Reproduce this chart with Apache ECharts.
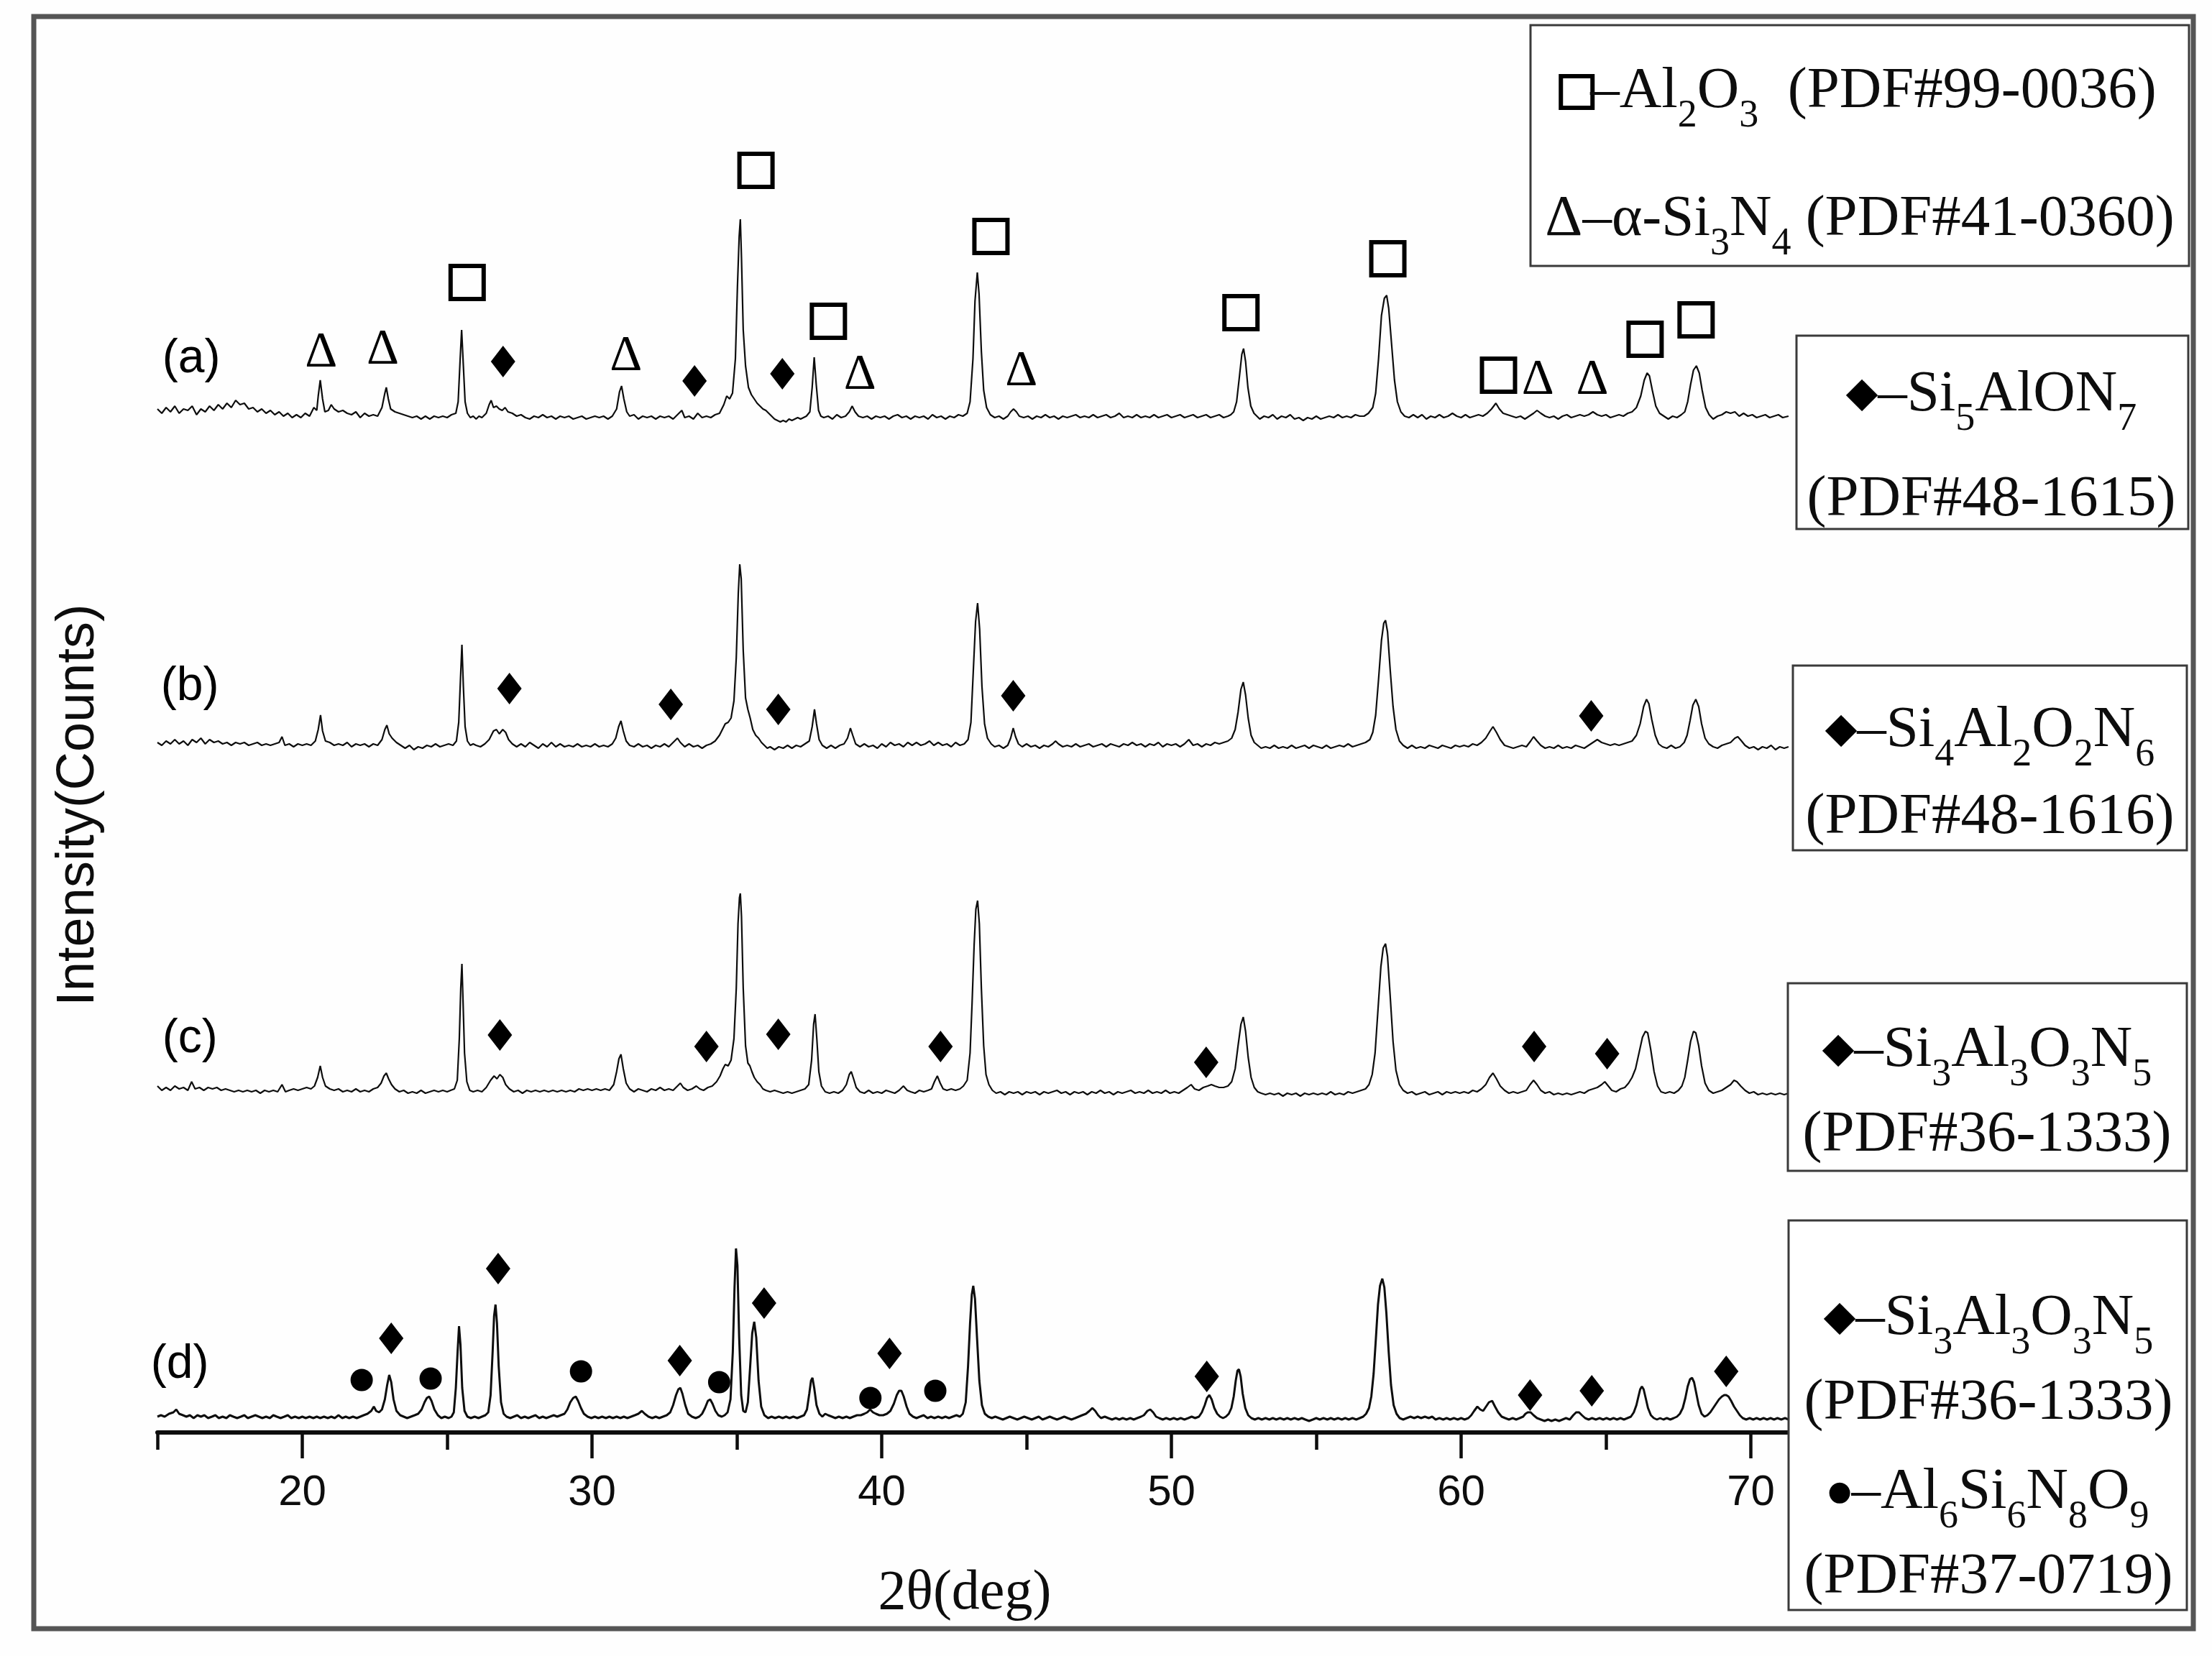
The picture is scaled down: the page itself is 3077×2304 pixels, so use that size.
<!DOCTYPE html>
<html>
<head>
<meta charset="utf-8">
<script src="https://cdn.jsdelivr.net/npm/echarts@6/dist/echarts.min.js"></script>
<style>html,body{margin:0;padding:0;background:#fefefe;}#chart{width:3077px;height:2304px;}</style>
</head>
<body>
<div id="chart"></div>
<script>
// ---------- DATA (2θ in degrees, intensity in arbitrary counts above each pattern's baseline) ----------
const patternNames = ['(a)', '(b)', '(c)', '(d)'];
const patternOffsets = [707, 479, 239, 11];
const patternLabelPos = [[16.17, 746.5], [16.12, 518.5], [16.12, 273.5], [15.77, 47]];

const traceA = [[15.0,5],[15.15,2],[15.3,6],[15.45,3],[15.6,7],[15.75,2],[15.9,5],[16.05,4],[16.2,7],[16.35,1],[16.5,5],[16.65,3],[16.8,7],[16.95,4],[17.1,8],[17.25,5],[17.4,9],[17.55,6],[17.7,11],[17.85,8],[18.0,9],[18.15,5],[18.3,6],[18.45,3],[18.6,5],[18.75,2],[18.9,4],[19.05,1],[19.2,3],[19.35,0],[19.5,2],[19.65,-1],[19.8,1],[19.95,-1],[20.1,2],[20.25,0],[20.4,6],[20.5,4],[20.55,14],[20.62,25],[20.7,12],[20.78,3],[20.9,4],[21.0,8],[21.1,5],[21.25,3],[21.4,4],[21.55,2],[21.7,1],[21.85,3],[22.0,-1],[22.15,2],[22.3,0],[22.45,1],[22.6,0],[22.75,6],[22.85,16],[22.9,20],[22.97,12],[23.05,5],[23.2,3],[23.35,2],[23.5,1],[23.65,0],[23.8,-1],[23.95,0],[24.1,-2],[24.25,0],[24.4,-2],[24.55,0],[24.7,-1],[24.85,0],[25.0,-1],[25.15,1],[25.3,2],[25.38,10],[25.45,40],[25.5,60],[25.56,35],[25.62,10],[25.7,2],[25.8,-1],[25.9,0],[26.0,-2],[26.1,0],[26.2,-1],[26.35,2],[26.45,8],[26.52,11],[26.6,6],[26.7,7],[26.8,5],[26.9,4],[27.0,6],[27.1,3],[27.25,2],[27.4,0],[27.55,1],[27.7,-1],[27.85,-2],[28.0,0],[28.15,-1],[28.3,1],[28.45,-1],[28.6,0],[28.75,-2],[28.9,0],[29.05,-1],[29.2,0],[29.35,-2],[29.5,-1],[29.65,0],[29.8,-2],[29.95,-1],[30.1,0],[30.25,-1],[30.4,0],[30.55,-2],[30.7,0],[30.85,5],[30.95,17],[31.02,21],[31.1,12],[31.2,3],[31.3,0],[31.45,1],[31.6,-2],[31.75,0],[31.9,-1],[32.05,0],[32.2,-2],[32.35,0],[32.5,-1],[32.65,0],[32.8,-2],[32.95,1],[33.1,4],[33.2,-1],[33.35,0],[33.5,-2],[33.65,2],[33.8,-1],[33.95,0],[34.1,-1],[34.25,1],[34.4,2],[34.55,8],[34.65,14],[34.75,12],[34.85,16],[34.95,40],[35.02,90],[35.08,125],[35.12,137],[35.16,110],[35.22,60],[35.3,35],[35.4,20],[35.5,15],[35.6,12],[35.7,9],[35.8,7],[35.9,5],[36.0,4],[36.1,2],[36.2,0],[36.3,-2],[36.4,-3],[36.5,-4],[36.6,-3],[36.7,-4],[36.8,-2],[36.9,-3],[37.0,-2],[37.1,-1],[37.2,-2],[37.3,-1],[37.4,0],[37.52,3],[37.6,20],[37.67,41],[37.74,22],[37.82,4],[37.9,0],[38.0,-1],[38.15,0],[38.3,-2],[38.45,1],[38.6,-1],[38.75,0],[38.88,3],[38.98,7],[39.08,3],[39.2,0],[39.35,-1],[39.5,0],[39.65,-2],[39.8,0],[39.95,-1],[40.1,0],[40.25,-2],[40.4,0],[40.55,1],[40.7,-1],[40.85,0],[41.0,-2],[41.15,0],[41.3,-1],[41.45,0],[41.6,-2],[41.75,1],[41.9,-1],[42.05,0],[42.2,-2],[42.35,0],[42.5,-1],[42.65,1],[42.8,0],[42.95,2],[43.05,10],[43.15,40],[43.22,80],[43.3,100],[43.36,85],[43.44,45],[43.52,18],[43.62,6],[43.75,1],[43.9,-1],[44.05,0],[44.2,-2],[44.35,0],[44.45,3],[44.55,5],[44.65,3],[44.75,0],[44.9,-1],[45.05,0],[45.2,-2],[45.35,0],[45.5,-1],[45.65,1],[45.8,-1],[45.95,0],[46.1,-2],[46.25,0],[46.4,-1],[46.55,0],[46.7,1],[46.85,-1],[47.0,0],[47.15,-1],[47.3,1],[47.45,-1],[47.6,0],[47.75,1],[47.9,-1],[48.05,0],[48.2,2],[48.35,-1],[48.5,0],[48.65,-1],[48.8,1],[48.95,-1],[49.1,0],[49.25,-1],[49.4,1],[49.55,-1],[49.7,0],[49.85,1],[50.0,-1],[50.15,0],[50.3,1],[50.45,-1],[50.6,0],[50.75,1],[50.9,-1],[51.05,0],[51.2,1],[51.35,-1],[51.5,0],[51.65,1],[51.8,-1],[51.95,0],[52.05,1],[52.15,3],[52.25,10],[52.35,28],[52.43,43],[52.49,47],[52.56,38],[52.64,20],[52.74,7],[52.85,2],[52.95,0],[53.05,-2],[53.2,0],[53.35,-1],[53.5,1],[53.65,-2],[53.8,0],[53.95,-1],[54.1,1],[54.25,-2],[54.4,-1],[54.55,-3],[54.7,-1],[54.85,-2],[55.0,0],[55.15,-2],[55.3,-1],[55.45,0],[55.6,-1],[55.75,1],[55.9,-1],[56.05,0],[56.2,-1],[56.35,1],[56.5,0],[56.65,0],[56.8,2],[56.95,6],[57.05,16],[57.15,40],[57.25,70],[57.35,82],[57.43,84],[57.5,75],[57.6,50],[57.7,25],[57.8,10],[57.92,3],[58.05,0],[58.2,-1],[58.35,1],[58.5,-1],[58.65,1],[58.8,-2],[58.95,0],[59.1,-1],[59.25,1],[59.4,-1],[59.55,0],[59.7,2],[59.85,0],[60.0,-1],[60.15,1],[60.3,-1],[60.45,0],[60.6,1],[60.75,0],[60.9,2],[61.05,5],[61.2,9],[61.32,5],[61.45,2],[61.6,1],[61.75,0],[61.9,-1],[62.05,0],[62.2,-2],[62.35,0],[62.5,2],[62.62,4],[62.75,2],[62.9,0],[63.05,-1],[63.2,0],[63.35,-2],[63.5,0],[63.65,1],[63.8,-1],[63.95,0],[64.1,1],[64.25,0],[64.4,1],[64.55,3],[64.7,1],[64.85,0],[65.0,1],[65.15,-1],[65.3,0],[65.45,1],[65.6,0],[65.75,2],[65.9,3],[66.05,6],[66.2,14],[66.32,25],[66.42,30],[66.5,28],[66.6,18],[66.72,7],[66.85,2],[67.0,0],[67.15,-2],[67.3,0],[67.45,-1],[67.6,1],[67.72,3],[67.82,10],[67.92,22],[68.02,32],[68.12,35],[68.22,30],[68.32,18],[68.44,6],[68.56,1],[68.7,-2],[68.85,0],[69.0,1],[69.15,3],[69.3,2],[69.45,3],[69.6,0],[69.75,2],[69.9,0],[70.05,1],[70.2,-1],[70.35,0],[70.5,1],[70.65,-1],[70.8,0],[70.95,1],[71.1,-1],[71.3,0]];

const traceB = [[15.0,1],[15.15,-1],[15.3,2],[15.45,0],[15.6,3],[15.75,0],[15.9,2],[16.05,-1],[16.2,3],[16.35,1],[16.5,4],[16.65,0],[16.8,3],[16.95,1],[17.1,2],[17.25,0],[17.4,1],[17.55,-1],[17.7,1],[17.85,0],[18.0,1],[18.15,-1],[18.3,0],[18.45,1],[18.6,-1],[18.75,0],[18.9,-1],[19.05,0],[19.2,1],[19.3,5],[19.4,-1],[19.55,0],[19.7,-2],[19.85,0],[20.0,-1],[20.15,0],[20.3,-1],[20.45,2],[20.55,10],[20.63,20],[20.7,9],[20.8,2],[20.95,1],[21.1,-1],[21.25,0],[21.4,-1],[21.55,1],[21.7,-2],[21.85,0],[22.0,-1],[22.15,0],[22.3,-2],[22.45,0],[22.6,-1],[22.75,3],[22.85,10],[22.92,13],[23.0,7],[23.1,4],[23.25,1],[23.4,-1],[23.55,-3],[23.7,-1],[23.85,-4],[24.0,-2],[24.15,-3],[24.3,-1],[24.45,-2],[24.6,0],[24.75,-2],[24.9,-1],[25.05,0],[25.2,-1],[25.32,2],[25.4,15],[25.46,45],[25.51,69],[25.56,40],[25.62,12],[25.7,2],[25.8,-1],[25.9,0],[26.0,-1],[26.15,-2],[26.3,0],[26.45,3],[26.6,9],[26.7,10],[26.8,7],[26.92,10],[27.02,8],[27.12,3],[27.25,0],[27.4,-2],[27.55,0],[27.7,-2],[27.85,1],[28.0,-1],[28.15,-3],[28.3,0],[28.45,-2],[28.6,1],[28.75,-2],[28.9,0],[29.05,-2],[29.2,-1],[29.35,-2],[29.5,0],[29.65,-2],[29.8,-1],[29.95,-2],[30.1,0],[30.25,-2],[30.4,-1],[30.55,-2],[30.7,0],[30.82,4],[30.92,12],[31.0,16],[31.08,9],[31.18,2],[31.3,-1],[31.45,-2],[31.6,0],[31.75,-2],[31.9,-1],[32.05,-3],[32.2,-1],[32.35,-2],[32.5,0],[32.65,-2],[32.8,1],[32.95,4],[33.05,1],[33.2,-2],[33.35,0],[33.5,-2],[33.65,-1],[33.8,-3],[33.95,-1],[34.1,0],[34.25,2],[34.4,6],[34.5,10],[34.6,14],[34.7,15],[34.8,18],[34.9,30],[34.98,60],[35.05,105],[35.1,125],[35.15,115],[35.22,65],[35.3,32],[35.38,24],[35.46,18],[35.55,10],[35.65,6],[35.75,4],[35.85,1],[35.95,-1],[36.05,-3],[36.15,-2],[36.3,-4],[36.45,-2],[36.6,-3],[36.75,-1],[36.9,-3],[37.05,-1],[37.2,-2],[37.35,0],[37.5,2],[37.6,12],[37.68,24],[37.75,14],[37.84,3],[37.95,-1],[38.1,-3],[38.25,-1],[38.4,-3],[38.55,-1],[38.7,0],[38.82,4],[38.92,11],[39.0,6],[39.1,0],[39.25,-2],[39.4,0],[39.55,-2],[39.7,-1],[39.85,-3],[40.0,0],[40.15,-2],[40.3,1],[40.45,-1],[40.6,0],[40.75,-2],[40.9,1],[41.05,-1],[41.2,1],[41.35,-1],[41.5,0],[41.65,2],[41.8,-1],[41.95,1],[42.1,-1],[42.25,0],[42.4,-2],[42.55,1],[42.7,-1],[42.85,0],[42.98,3],[43.08,15],[43.16,50],[43.24,85],[43.31,98],[43.38,80],[43.46,40],[43.55,14],[43.65,4],[43.78,0],[43.9,-2],[44.05,-1],[44.2,-3],[44.35,-1],[44.45,4],[44.54,11],[44.62,5],[44.72,0],[44.85,-2],[45.0,0],[45.15,-2],[45.3,-1],[45.45,-3],[45.6,-1],[45.75,-2],[45.9,0],[46.0,2],[46.1,0],[46.25,-2],[46.4,-1],[46.55,-2],[46.7,0],[46.85,-2],[47.0,-1],[47.15,0],[47.3,-2],[47.45,-1],[47.6,0],[47.75,-2],[47.9,0],[48.05,-1],[48.2,-2],[48.35,0],[48.5,-1],[48.65,1],[48.8,-1],[48.95,0],[49.1,-2],[49.25,0],[49.4,-1],[49.55,1],[49.7,-2],[49.85,0],[50.0,-1],[50.15,0],[50.3,-2],[50.45,0],[50.6,3],[50.75,-1],[50.9,0],[51.05,-2],[51.2,0],[51.35,-1],[51.5,1],[51.65,0],[51.8,1],[51.95,2],[52.08,4],[52.2,10],[52.3,22],[52.4,38],[52.48,43],[52.56,34],[52.65,18],[52.75,6],[52.86,1],[52.98,-1],[53.1,-3],[53.25,-2],[53.4,-3],[53.55,-1],[53.7,-3],[53.85,-2],[54.0,-3],[54.15,-1],[54.3,-3],[54.45,-2],[54.6,-1],[54.75,-3],[54.9,-1],[55.05,-2],[55.2,-3],[55.35,-1],[55.5,-3],[55.65,-2],[55.8,-1],[55.95,-2],[56.1,0],[56.25,-2],[56.4,-1],[56.55,0],[56.7,1],[56.85,3],[56.95,8],[57.05,20],[57.15,45],[57.25,72],[57.33,84],[57.39,86],[57.46,78],[57.55,52],[57.65,26],[57.75,10],[57.87,2],[58.0,-1],[58.15,-3],[58.3,-1],[58.45,-3],[58.6,-2],[58.75,-3],[58.9,-1],[59.05,-2],[59.2,-3],[59.35,-1],[59.5,-2],[59.65,-3],[59.8,-1],[59.95,-2],[60.1,-1],[60.25,-2],[60.4,0],[60.55,-1],[60.7,1],[60.85,4],[61.0,9],[61.1,12],[61.22,8],[61.35,3],[61.5,-1],[61.65,-2],[61.8,-3],[61.95,-2],[62.1,-1],[62.25,-2],[62.4,2],[62.5,5],[62.62,2],[62.75,-1],[62.9,-3],[63.05,-2],[63.2,-3],[63.35,-1],[63.5,-3],[63.65,-2],[63.8,-3],[63.95,-1],[64.1,-2],[64.25,-3],[64.4,-1],[64.55,1],[64.7,3],[64.85,1],[65.0,0],[65.15,-1],[65.3,0],[65.45,-1],[65.6,0],[65.75,1],[65.9,2],[66.05,6],[66.18,14],[66.3,26],[66.4,31],[66.48,28],[66.58,17],[66.7,6],[66.82,0],[66.95,-2],[67.1,-3],[67.25,-1],[67.4,-3],[67.55,-2],[67.7,1],[67.8,6],[67.9,16],[68.0,27],[68.1,31],[68.2,26],[68.3,14],[68.42,4],[68.55,0],[68.7,-2],[68.85,-3],[69.0,-1],[69.15,0],[69.3,1],[69.45,4],[69.55,5],[69.68,2],[69.8,-1],[69.95,-3],[70.1,-2],[70.25,-4],[70.4,-2],[70.55,-3],[70.7,-1],[70.85,-4],[71.0,-2],[71.15,-3],[71.3,-2]];

const traceC = [[15.0,2],[15.15,-1],[15.3,1],[15.45,-1],[15.6,2],[15.75,0],[15.9,1],[16.05,-1],[16.18,5],[16.3,0],[16.45,1],[16.6,-1],[16.75,1],[16.9,0],[17.05,1],[17.2,-1],[17.35,0],[17.5,-1],[17.65,-2],[17.8,-1],[17.95,-2],[18.1,-1],[18.25,-2],[18.4,-1],[18.55,-3],[18.7,-1],[18.85,-2],[19.0,-1],[19.15,-2],[19.3,3],[19.42,-2],[19.55,-1],[19.7,0],[19.85,-1],[20.0,0],[20.15,1],[20.3,0],[20.42,2],[20.53,8],[20.62,16],[20.7,8],[20.8,2],[20.95,0],[21.1,-1],[21.25,0],[21.4,-2],[21.55,-1],[21.7,-2],[21.85,0],[22.0,-2],[22.15,-1],[22.3,-2],[22.45,0],[22.6,1],[22.72,4],[22.82,9],[22.9,11],[22.98,7],[23.08,3],[23.2,0],[23.35,-2],[23.5,-1],[23.65,-3],[23.8,-2],[23.95,-3],[24.1,-1],[24.25,-3],[24.4,-2],[24.55,-1],[24.7,-2],[24.85,-1],[25.0,-2],[25.12,-1],[25.25,0],[25.35,6],[25.42,35],[25.47,70],[25.51,87],[25.55,60],[25.6,25],[25.68,5],[25.78,-1],[25.9,-2],[26.05,-1],[26.2,-2],[26.35,1],[26.5,6],[26.62,9],[26.72,7],[26.82,10],[26.92,8],[27.02,3],[27.15,0],[27.3,-2],[27.45,-1],[27.6,-3],[27.75,-1],[27.9,-2],[28.05,-1],[28.2,-2],[28.35,-1],[28.5,-2],[28.65,-1],[28.8,-2],[28.95,-1],[29.1,-2],[29.25,-1],[29.4,-2],[29.55,0],[29.7,-1],[29.85,0],[30.0,-1],[30.15,0],[30.3,-1],[30.45,0],[30.6,-1],[30.75,3],[30.85,12],[30.93,21],[31.0,24],[31.08,14],[31.18,4],[31.3,0],[31.45,-2],[31.6,0],[31.75,-1],[31.9,-2],[32.05,0],[32.2,-1],[32.35,1],[32.5,-1],[32.65,0],[32.8,-1],[32.95,2],[33.05,4],[33.15,1],[33.3,-1],[33.45,0],[33.6,2],[33.72,0],[33.85,-1],[34.0,1],[34.15,2],[34.3,5],[34.42,9],[34.52,14],[34.6,17],[34.7,16],[34.8,20],[34.9,35],[34.98,70],[35.04,115],[35.09,133],[35.12,136],[35.16,120],[35.22,70],[35.3,30],[35.38,18],[35.45,16],[35.52,12],[35.6,8],[35.7,5],[35.8,3],[35.9,0],[36.0,-1],[36.15,-2],[36.3,-1],[36.45,-2],[36.6,-3],[36.75,-2],[36.9,-3],[37.05,-2],[37.2,-1],[37.35,0],[37.48,3],[37.58,20],[37.65,45],[37.7,52],[37.76,35],[37.83,12],[37.92,2],[38.05,-2],[38.2,-3],[38.35,-2],[38.5,-3],[38.65,-1],[38.78,3],[38.88,10],[38.95,12],[39.03,7],[39.12,1],[39.25,-2],[39.4,-3],[39.55,-1],[39.7,-3],[39.85,-2],[40.0,-3],[40.15,-1],[40.3,-2],[40.45,-3],[40.6,-1],[40.75,2],[40.88,-1],[41.0,-2],[41.15,-3],[41.3,-1],[41.45,-2],[41.6,-1],[41.72,0],[41.82,5],[41.92,9],[42.02,4],[42.12,0],[42.25,-1],[42.4,0],[42.55,-1],[42.7,0],[42.82,2],[42.95,6],[43.05,25],[43.12,60],[43.19,100],[43.25,125],[43.31,131],[43.37,115],[43.44,70],[43.52,30],[43.6,10],[43.7,3],[43.82,-1],[43.95,-3],[44.1,-2],[44.25,-4],[44.4,-2],[44.55,-3],[44.7,-2],[44.85,-4],[45.0,-2],[45.15,-3],[45.3,-2],[45.45,-4],[45.6,-2],[45.75,-3],[45.9,-2],[46.05,-1],[46.2,-3],[46.35,-2],[46.5,-4],[46.65,-2],[46.8,-3],[46.95,-2],[47.1,-4],[47.25,-2],[47.4,-3],[47.55,-1],[47.7,-3],[47.85,-2],[48.0,-4],[48.15,-2],[48.3,-3],[48.45,-2],[48.6,-1],[48.75,-3],[48.9,-2],[49.05,-3],[49.2,-1],[49.35,-3],[49.5,-2],[49.65,-3],[49.8,-1],[49.95,-3],[50.1,-2],[50.25,-3],[50.4,-1],[50.55,1],[50.68,3],[50.8,0],[50.95,-1],[51.1,1],[51.25,2],[51.38,3],[51.5,2],[51.65,1],[51.8,1],[51.95,2],[52.08,5],[52.2,14],[52.3,30],[52.4,45],[52.48,50],[52.56,40],[52.65,22],[52.75,8],[52.86,1],[52.98,-2],[53.1,-3],[53.25,-4],[53.4,-3],[53.55,-4],[53.7,-3],[53.85,-5],[54.0,-3],[54.15,-4],[54.3,-3],[54.45,-5],[54.6,-3],[54.75,-4],[54.9,-3],[55.05,-4],[55.2,-3],[55.35,-4],[55.5,-2],[55.65,-4],[55.8,-3],[55.95,-4],[56.1,-2],[56.25,-3],[56.4,-2],[56.55,-1],[56.7,0],[56.82,3],[56.93,10],[57.03,25],[57.13,55],[57.23,85],[57.31,98],[57.39,101],[57.46,92],[57.55,65],[57.65,33],[57.75,13],[57.87,3],[58.0,-1],[58.15,-3],[58.3,-2],[58.45,-4],[58.6,-3],[58.75,-2],[58.9,-4],[59.05,-3],[59.2,-2],[59.35,-4],[59.5,-2],[59.65,-3],[59.8,-2],[59.95,-3],[60.1,-2],[60.25,-3],[60.4,-1],[60.55,-2],[60.7,0],[60.85,3],[60.98,8],[61.1,11],[61.22,7],[61.35,2],[61.5,-1],[61.65,-3],[61.8,-2],[61.95,-3],[62.1,-2],[62.25,-1],[62.38,3],[62.5,6],[62.62,3],[62.75,-1],[62.9,-3],[63.05,-2],[63.2,-4],[63.35,-3],[63.5,-4],[63.65,-3],[63.8,-4],[63.95,-3],[64.1,-2],[64.25,-3],[64.4,-1],[64.55,0],[64.7,1],[64.85,3],[64.96,5],[65.08,2],[65.2,-1],[65.35,-2],[65.5,0],[65.65,1],[65.78,4],[65.9,8],[66.02,14],[66.14,25],[66.26,36],[66.36,40],[66.44,39],[66.54,28],[66.66,12],[66.78,2],[66.9,-2],[67.05,-3],[67.2,-2],[67.35,-3],[67.5,-1],[67.62,2],[67.72,8],[67.82,20],[67.92,33],[68.02,40],[68.1,39],[68.2,30],[68.3,16],[68.42,4],[68.55,-1],[68.7,-3],[68.85,-2],[69.0,-1],[69.15,1],[69.3,3],[69.42,6],[69.52,5],[69.65,2],[69.8,-1],[69.95,-3],[70.1,-2],[70.25,-4],[70.4,-3],[70.55,-4],[70.7,-3],[70.85,-4],[71.0,-3],[71.15,-4],[71.3,-3]];

const traceD = [[15.0,0],[15.12,1],[15.25,0],[15.4,2],[15.55,3],[15.65,5],[15.75,2],[15.88,1],[16.0,0],[16.12,1],[16.25,-1],[16.38,1],[16.5,0],[16.62,1],[16.75,-1],[16.88,0],[17.0,1],[17.12,-1],[17.25,0],[17.38,-1],[17.5,1],[17.62,0],[17.75,-1],[17.88,0],[18.0,1],[18.12,-1],[18.25,0],[18.38,1],[18.5,0],[18.62,-1],[18.75,0],[18.88,-1],[19.0,1],[19.12,0],[19.25,-1],[19.38,0],[19.5,1],[19.62,-1],[19.75,0],[19.88,-1],[20.0,0],[20.12,-1],[20.25,0],[20.38,-1],[20.5,0],[20.62,-1],[20.75,0],[20.88,-1],[21.0,0],[21.12,-1],[21.25,1],[21.38,-1],[21.5,0],[21.62,-1],[21.75,0],[21.88,-1],[22.0,0],[22.12,1],[22.25,2],[22.38,4],[22.47,7],[22.55,4],[22.65,3],[22.75,5],[22.85,12],[22.93,22],[23.0,29],[23.07,24],[23.15,12],[23.25,4],[23.38,1],[23.5,0],[23.62,-1],[23.75,0],[23.88,1],[24.0,2],[24.12,5],[24.22,10],[24.3,13],[24.38,14],[24.46,11],[24.56,5],[24.68,1],[24.8,-1],[24.92,0],[25.05,-1],[25.15,0],[25.23,3],[25.3,20],[25.36,45],[25.41,63],[25.46,50],[25.52,20],[25.6,4],[25.7,0],[25.82,-1],[25.95,0],[26.08,-1],[26.2,0],[26.32,1],[26.42,3],[26.5,15],[26.57,45],[26.62,70],[26.67,78],[26.72,65],[26.78,35],[26.86,10],[26.95,2],[27.05,0],[27.18,-1],[27.3,0],[27.42,1],[27.55,-1],[27.68,0],[27.8,-1],[27.92,0],[28.05,1],[28.18,-1],[28.3,0],[28.42,-1],[28.55,0],[28.68,1],[28.8,0],[28.92,1],[29.05,2],[29.15,5],[29.25,10],[29.35,13],[29.44,14],[29.52,11],[29.62,6],[29.72,2],[29.85,0],[29.98,-1],[30.1,0],[30.22,-1],[30.35,0],[30.48,-1],[30.6,0],[30.72,-1],[30.85,0],[30.98,-1],[31.1,0],[31.22,-1],[31.35,0],[31.48,1],[31.6,2],[31.72,4],[31.82,2],[31.95,0],[32.08,-1],[32.2,0],[32.32,-1],[32.45,0],[32.58,1],[32.7,3],[32.8,8],[32.9,15],[32.98,19],[33.05,20],[33.12,16],[33.22,8],[33.32,2],[33.45,0],[33.58,-1],[33.7,0],[33.8,2],[33.9,6],[34.0,11],[34.08,12],[34.16,9],[34.26,4],[34.36,1],[34.48,0],[34.58,1],[34.68,3],[34.78,12],[34.86,45],[34.92,90],[34.97,117],[35.02,105],[35.08,55],[35.15,15],[35.22,4],[35.3,3],[35.38,10],[35.46,35],[35.53,58],[35.6,66],[35.67,55],[35.75,25],[35.84,7],[35.95,1],[36.08,-1],[36.2,0],[36.32,-1],[36.45,0],[36.58,-1],[36.7,0],[36.82,-1],[36.95,0],[37.08,-1],[37.2,0],[37.32,1],[37.42,5],[37.5,16],[37.56,25],[37.61,27],[37.67,20],[37.75,8],[37.85,2],[37.95,0],[38.05,2],[38.15,1],[38.28,0],[38.4,-1],[38.52,0],[38.65,-1],[38.78,0],[38.9,-1],[39.02,0],[39.15,1],[39.28,1],[39.4,2],[39.5,3],[39.6,5],[39.7,3],[39.8,2],[39.92,1],[40.05,1],[40.18,2],[40.3,4],[40.42,9],[40.52,15],[40.6,18],[40.68,18],[40.76,14],[40.86,7],[40.96,2],[41.08,0],[41.2,-1],[41.32,0],[41.45,1],[41.58,-1],[41.7,0],[41.82,-1],[41.95,0],[42.08,-1],[42.2,0],[42.32,-1],[42.45,0],[42.58,1],[42.7,0],[42.8,2],[42.9,10],[42.98,35],[43.05,65],[43.11,85],[43.16,91],[43.22,82],[43.29,55],[43.37,25],[43.46,8],[43.56,2],[43.68,0],[43.8,-1],[43.92,0],[44.05,-1],[44.18,-2],[44.3,-1],[44.42,0],[44.55,-1],[44.68,-2],[44.8,-1],[44.92,0],[45.05,-1],[45.18,-2],[45.3,-1],[45.42,0],[45.55,-2],[45.68,-1],[45.8,0],[45.92,-1],[46.05,-2],[46.18,-1],[46.3,0],[46.42,-1],[46.55,-2],[46.68,-1],[46.8,0],[46.92,1],[47.05,2],[47.17,4],[47.27,6],[47.37,4],[47.47,1],[47.57,-1],[47.7,0],[47.82,-1],[47.95,-2],[48.08,-1],[48.2,-2],[48.32,-1],[48.45,-2],[48.58,-1],[48.7,-2],[48.82,-1],[48.95,0],[49.05,1],[49.17,4],[49.27,5],[49.37,3],[49.47,0],[49.58,-1],[49.7,-2],[49.82,-1],[49.95,-2],[50.08,-1],[50.2,-2],[50.32,-1],[50.45,-2],[50.58,-1],[50.7,0],[50.82,-1],[50.95,0],[51.05,3],[51.15,8],[51.23,13],[51.31,15],[51.39,12],[51.48,6],[51.58,2],[51.68,0],[51.78,-1],[51.88,0],[51.98,2],[52.07,6],[52.15,14],[52.22,25],[52.28,32],[52.33,33],[52.39,28],[52.46,16],[52.55,6],[52.65,1],[52.76,-1],[52.88,-2],[53.0,-1],[53.12,-2],[53.25,-1],[53.38,-2],[53.5,-1],[53.62,-2],[53.75,-1],[53.88,-2],[54.0,-1],[54.12,-2],[54.25,-1],[54.38,-2],[54.5,-1],[54.62,-2],[54.75,-3],[54.88,-2],[55.0,-1],[55.12,-2],[55.25,-1],[55.38,-2],[55.5,-1],[55.62,-2],[55.75,-1],[55.88,-2],[56.0,-1],[56.12,-2],[56.25,-1],[56.38,-2],[56.5,-1],[56.62,0],[56.72,2],[56.82,6],[56.9,14],[56.98,30],[57.06,55],[57.13,78],[57.2,91],[57.28,96],[57.35,90],[57.42,72],[57.5,45],[57.58,22],[57.67,8],[57.77,2],[57.88,-1],[58.0,-2],[58.12,-1],[58.25,0],[58.38,-1],[58.5,0],[58.62,-1],[58.75,0],[58.88,-1],[59.0,0],[59.12,-2],[59.25,-1],[59.38,-2],[59.5,-1],[59.62,-2],[59.75,-1],[59.88,-2],[60.0,-1],[60.12,-2],[60.25,-1],[60.35,1],[60.45,4],[60.56,7],[60.66,5],[60.76,4],[60.86,7],[60.96,10],[61.07,11],[61.17,7],[61.28,3],[61.4,0],[61.52,-1],[61.65,-2],[61.78,-1],[61.9,-2],[62.02,-1],[62.14,0],[62.22,2],[62.3,3],[62.4,3],[62.5,1],[62.62,-1],[62.75,-2],[62.88,-3],[63.0,-2],[63.12,-3],[63.25,-2],[63.38,-3],[63.5,-2],[63.62,-1],[63.75,-2],[63.87,1],[63.97,3],[64.07,3],[64.17,1],[64.28,-1],[64.4,-2],[64.52,-1],[64.65,-2],[64.78,-1],[64.9,-2],[65.02,-1],[65.14,-2],[65.26,-1],[65.38,-2],[65.5,-1],[65.62,-2],[65.74,-1],[65.86,0],[65.96,3],[66.05,8],[66.12,14],[66.18,19],[66.24,21],[66.3,19],[66.37,13],[66.45,6],[66.55,1],[66.65,-1],[66.76,-2],[66.87,-1],[66.98,-2],[67.1,-1],[67.22,-2],[67.34,-1],[67.45,0],[67.55,2],[67.65,6],[67.74,13],[67.82,21],[67.9,26],[67.97,27],[68.04,24],[68.12,16],[68.2,8],[68.3,2],[68.4,0],[68.5,1],[68.6,3],[68.7,6],[68.8,9],[68.9,12],[69.0,14],[69.08,15],[69.15,15],[69.23,14],[69.32,11],[69.42,7],[69.52,4],[69.62,1],[69.72,-1],[69.84,-2],[69.96,-1],[70.08,-2],[70.2,-1],[70.32,-2],[70.44,-1],[70.56,-2],[70.68,-1],[70.8,-2],[70.92,-1],[71.05,-2],[71.18,-1],[71.3,-2]];

// Phase markers: [2θ, plotted intensity]
const squareMarks = [[25.69,800],[35.66,878],[38.16,773],[43.77,832],[52.4,779],[57.47,816.5],[61.29,735.5],[66.35,760.5],[68.11,774]];
const triangleMarks = [[20.65,750.5],[22.78,752.5],[31.17,748],[39.25,735],[44.82,737.5],[62.65,731.5],[64.53,731.5]];
const diamondMarks = [
  [26.93,745],[33.54,731.5],[36.57,736.5],
  [27.15,517.5],[32.72,506.5],[36.43,503],[44.54,512.5],[64.49,498.5],
  [26.82,276.5],[33.95,268.5],[36.43,277],[42.03,268.5],[51.2,257.5],[62.52,268.5],[65.04,263.5],
  [23.07,65.5],[26.76,114],[33.03,50],[35.94,90],[40.27,55],[51.22,39],[62.38,26],[64.51,29],[69.15,42.5]
];
const circleMarks = [[22.05,36.5],[24.43,37.5],[29.62,42.5],[34.39,35],[39.61,24],[41.85,29]];

// Axis values
const xMin = 15, xMax = 75, xMinorStep = 5, xMajorStart = 20, xMajorStep = 10;
const yMin = 0, yMax = 900;

// Legend texts (rich-text markup)
const legendLines = [
  ['{sq| }{t|–Al}{s|2}{t|O}{s|3}{t|  (PDF#99-0036)}', '{t|Δ–α-Si}{s|3}{t|N}{s|4}{t| (PDF#41-0360)}'],
  ['{dm|◆}{t|–Si}{s|5}{t|AlON}{s|7}', '{t|(PDF#48-1615)}'],
  ['{dm|◆}{t|–Si}{s|4}{t|Al}{s|2}{t|O}{s|2}{t|N}{s|6}', '{t|(PDF#48-1616)}'],
  ['{dm|◆}{t|–Si}{s|3}{t|Al}{s|3}{t|O}{s|3}{t|N}{s|5}', '{t|(PDF#36-1333)}'],
  ['{dm|◆}{t|–Si}{s|3}{t|Al}{s|3}{t|O}{s|3}{t|N}{s|5}', '{t|(PDF#36-1333)}', '{dt|●}{t|–Al}{s|6}{t|Si}{s|6}{t|N}{s|8}{t|O}{s|9}', '{t|(PDF#37-0719)}']
];

// ---------- LAYOUT ----------
const W = 3077, H = 2304;
const gridLeft = 219, axisY = 1993, pxPerDeg = 40.3, pxPerUnit = 2;
const gridRight = W - (gridLeft + (xMax - xMin) * pxPerDeg);
const gridTop = axisY - (yMax - yMin) * pxPerUnit;
const gridBottom = H - axisY;
const grid2Left = gridLeft + (xMajorStart - xMin) * pxPerDeg;

const legendBoxes = [
  {x: 2129, y: 35, w: 916, h: 335, lines: [128, 306], cx: 2587},
  {x: 2499, y: 467, w: 545, h: 269, lines: [550, 696], cx: 2770},
  {x: 2494, y: 926, w: 548, h: 257, lines: [1017, 1138], cx: 2768},
  {x: 2487, y: 1368, w: 555, h: 261, lines: [1462, 1580], cx: 2764},
  {x: 2488, y: 1698, w: 554, h: 542, lines: [1835, 1953, 2077, 2195], cx: 2766}
];

const SERIF = 'Liberation Serif, Times New Roman, serif';
const SANS = 'Liberation Sans, Arial, sans-serif';
const INK = '#0d0d0d';

const rich = {
  t: {fontFamily: SERIF, fontSize: 81, fill: INK, lineHeight: 122, verticalAlign: 'middle'},
  s: {fontFamily: SERIF, fontSize: 54, fill: INK, verticalAlign: 'bottom'},
  sq: {width: 38, height: 38, borderColor: '#000', borderWidth: 6, backgroundColor: '#fff', verticalAlign: 'middle'},
  dm: {fontFamily: 'DejaVu Sans', fontSize: 58, fill: '#000', verticalAlign: 'middle'},
  dt: {fontFamily: 'DejaVu Sans', fontSize: 38, fill: '#000', verticalAlign: 'middle'}
};

const graphics = [];
graphics.push({type: 'rect', z: 100, shape: {x: 47, y: 23, width: 3004, height: 2243}, style: {fill: 'none', stroke: '#555', lineWidth: 7}});
legendBoxes.forEach((b, i) => {
  graphics.push({type: 'rect', z: 100, shape: {x: b.x, y: b.y, width: b.w, height: b.h}, style: {fill: '#fff', stroke: '#3a3a3a', lineWidth: 3}});
  legendLines[i].forEach((txt, j) => {
    graphics.push({type: 'text', z: 101, x: b.cx, y: b.lines[j], style: {text: txt, rich: rich, align: 'center', verticalAlign: 'middle', fontFamily: SERIF, fontSize: 81, fill: INK}});
  });
});
graphics.push({type: 'text', z: 101, x: 110, y: 1120, rotation: Math.PI / 2, style: {text: 'Intensity(Counts)', fontFamily: SANS, fontSize: 74, fill: INK, align: 'center', verticalAlign: 'middle'}});
graphics.push({type: 'text', z: 101, x: 1342, y: 2218, style: {text: '2θ(deg)', fontFamily: SERIF, fontSize: 78, fill: INK, align: 'center', verticalAlign: 'middle'}});

const traces = [traceA, traceB, traceC, traceD];
const lineSeries = traces.map((tr, i) => ({
  type: 'line', xAxisIndex: 0, yAxisIndex: 0, name: patternNames[i],
  data: tr.map(p => [p[0], patternOffsets[i] + p[1]]),
  symbol: 'none', smooth: false, z: 2,
  lineStyle: {color: INK, width: i === 3 ? 3 : 2.2, opacity: 1}
}));

const markLabel = (txt, family, size) => ({show: true, position: 'inside', formatter: txt, fontFamily: family,
  fontSize: size, color: '#000', opacity: 1, textBorderWidth: 0, textShadowBlur: 0});

const option = {
  backgroundColor: '#fefefe',
  animation: false,
  grid: [
    {left: gridLeft, right: gridRight, top: gridTop, bottom: gridBottom},
    {left: grid2Left, right: gridRight, top: gridTop, bottom: gridBottom}
  ],
  xAxis: [
    {type: 'value', gridIndex: 0, min: xMin, max: xMax, interval: xMinorStep,
     axisLine: {show: true, onZero: false, lineStyle: {color: INK, width: 6}},
     axisTick: {show: true, length: 24, lineStyle: {color: INK, width: 4.5}},
     axisLabel: {show: false}, splitLine: {show: false}},
    {type: 'value', gridIndex: 1, min: xMajorStart, max: xMax, interval: xMajorStep,
     axisLine: {show: false, onZero: false},
     axisTick: {show: true, length: 36, lineStyle: {color: INK, width: 4.5}},
     axisLabel: {show: true, margin: 54, fontSize: 60, fontFamily: SANS, color: INK,
                 formatter: v => (v % xMajorStep === 0 ? String(v) : '')},
     splitLine: {show: false}}
  ],
  yAxis: [
    {type: 'value', gridIndex: 0, min: yMin, max: yMax, show: false},
    {type: 'value', gridIndex: 1, min: yMin, max: yMax, show: false}
  ],
  series: lineSeries.concat([
    {type: 'scatter', data: squareMarks, symbol: 'rect', symbolSize: 46, z: 5, clip: false,
     itemStyle: {color: 'rgba(0,0,0,0)', borderColor: '#000', borderWidth: 6, opacity: 1}},
    {type: 'scatter', data: diamondMarks, symbol: 'diamond', symbolSize: [34, 44], z: 5, clip: false,
     itemStyle: {color: '#000', opacity: 1}},
    {type: 'scatter', data: circleMarks, symbol: 'circle', symbolSize: 31, z: 5, clip: false,
     itemStyle: {color: '#000', opacity: 1}},
    {type: 'scatter', data: triangleMarks, symbol: 'circle', symbolSize: 1, z: 5, clip: false,
     itemStyle: {color: 'rgba(0,0,0,0)', opacity: 1},
     label: markLabel('Δ', SERIF, 70)},
    {type: 'scatter', data: patternLabelPos.map((p, i) => ({value: p, name: patternNames[i]})),
     symbol: 'circle', symbolSize: 1, z: 5, clip: false, itemStyle: {color: 'rgba(0,0,0,0)', opacity: 1},
     label: markLabel('{b}', SANS, 66)}
  ]),
  graphic: {elements: graphics}
};

const chart = echarts.init(document.getElementById('chart'), null, {renderer: 'canvas', width: W, height: H});
chart.setOption(option);
</script>
</body>
</html>
